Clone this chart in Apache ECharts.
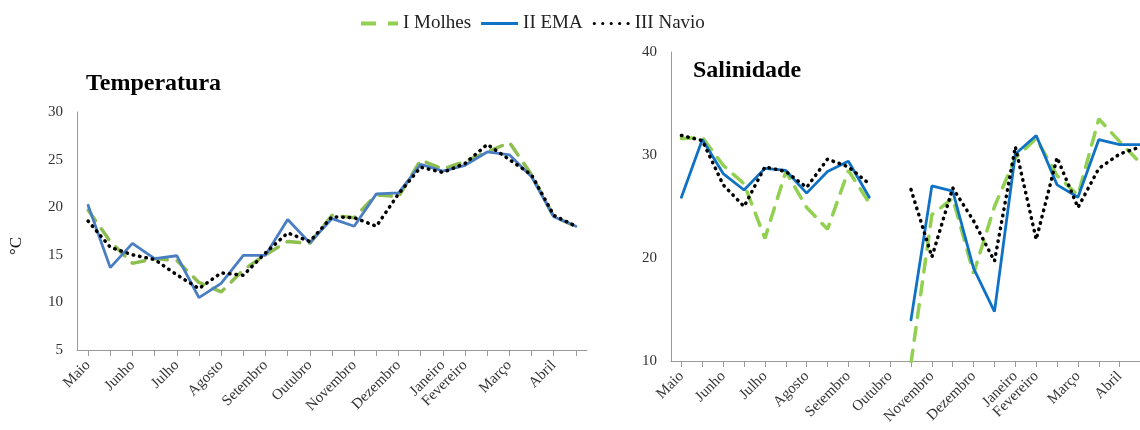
<!DOCTYPE html>
<html>
<head>
<meta charset="utf-8">
<script src="https://cdn.jsdelivr.net/npm/echarts@6/dist/echarts.min.js"></script>
<style>html,body{margin:0;padding:0;background:#fff}#c{width:1140px;height:430px}</style>
</head>
<body>
<div id="c"></div>
<script>
// categories (23 sampling points, labels only on some)
var categories = ['Maio','','Junho','','Julho','','Agosto','','Setembro','','Outubro','','Novembro','','Dezembro','','Janeiro','Fevereiro','','Março','','Abril',''];
var seriesNames = ['I Molhes','II EMA','III Navio'];
// Temperatura (°C)
var molhesT = [19.7, 16.4, 14.1, 14.6, 14.4, 12.1, 11.1, 13.4, 15.0, 16.4, 16.2, 19.15, 18.9, 21.3, 21.1, 24.95, 24.0, 24.8, 25.8, 26.8, 23.4, 19.0, 18.0];
var emaT    = [20.2, 13.65, 16.2, 14.6, 14.9, 10.5, 12.0, 14.95, 14.95, 18.7, 16.25, 18.8, 18.0, 21.4, 21.5, 24.5, 23.8, 24.4, 25.8, 25.5, 23.2, 19.0, 18.0];
var navioT  = [18.55, 15.8, 15.0, 14.5, 12.9, 11.45, 13.1, 12.85, 15.2, 17.3, 16.4, 19.0, 18.9, 18.0, 21.4, 24.2, 23.65, 24.6, 26.6, 25.0, 23.4, 19.15, 18.0];
// Salinidade
var molhesS = [31.6, 31.7, 29.0, 27.2, 21.9, 28.4, 24.9, 22.8, 28.5, 25.35, null, 9.8, 24.2, 25.8, 18.5, 25.0, 29.7, 31.6, 28.0, 26.1, 33.5, 31.3, 29.2];
var emaS    = [25.9, 31.5, 28.2, 26.6, 28.7, 28.5, 26.3, 28.4, 29.4, 25.9, null, 14.0, 27.0, 26.5, 19.0, 14.8, 30.1, 31.9, 27.1, 25.9, 31.5, 31.0, 31.0];
var navioS  = [31.9, 31.4, 27.1, 25.0, 28.85, 28.4, 26.85, 29.6, 28.85, 27.2, null, 26.65, 20.1, 26.8, 23.6, 19.7, 30.8, 21.8, 29.75, 24.9, 28.7, 30.1, 30.8];
// axis ticks
var tempTicks = {min: 5, max: 30, interval: 5};
var salTicks = {min: 10, max: 40, interval: 10};

var FONT = 'Liberation Serif';
var greenL = '#8EBE4F', blueL = '#4A7EC2', greenR = '#92D050', blueR = '#0F72C4', black = '#000';
var dashG = [13, 10], dotB = [0.5, 6];

// legend glyphs (filled shapes imitating dash / solid / dotted strokes)
var iconDash = 'path://M0,0h15v4h-15z M27,0h10v4h-10z';
var iconSolid = 'path://M0,0h37v3h-37z';
var iconDots = (function(){ var p = 'path://'; for (var i = 0; i < 5; i++) { var cx = 1.6 + i * 8.4; p += 'M' + (cx - 1.6) + ',1.6a1.6,1.6 0 1,0 3.2,0a1.6,1.6 0 1,0 -3.2,0z'; } return p; })();

function xAxis(gi) {
  return {
    type: 'category', gridIndex: gi, data: categories, boundaryGap: true,
    axisLine: {lineStyle: {color: '#9a9a9a', width: 1}},
    axisTick: {show: true, alignWithLabel: true, interval: 0, length: 6, lineStyle: {color: '#9a9a9a'}},
    axisLabel: {interval: 0, rotate: 45, margin: 13, fontFamily: FONT, fontSize: 15, color: '#333'},
    splitLine: {show: false}
  };
}
function yAxis(gi, t) {
  return {
    type: 'value', gridIndex: gi, min: t.min, max: t.max, interval: t.interval,
    axisLine: {show: true, lineStyle: {color: '#9a9a9a', width: 1}},
    axisTick: {show: false},
    axisLabel: {fontFamily: FONT, fontSize: 15, color: '#333', margin: 14},
    splitLine: {show: false}
  };
}
function line(name, data, gi, color, type, width) {
  return {
    name: name, type: 'line', xAxisIndex: gi, yAxisIndex: gi, data: data,
    symbol: 'none', connectNulls: false, clip: true, animation: false,
    lineStyle: {color: color, type: type, width: width, cap: 'round'},
    itemStyle: {color: color}
  };
}

var option = {
  animation: false,
  backgroundColor: '#fff',
  title: [
    {text: 'Temperatura', left: 86, top: 72, padding: 0, textStyle: {fontFamily: FONT, fontSize: 24, fontWeight: 'bold', color: '#000'}},
    {text: 'Salinidade', left: 693, top: 59, padding: 0, textStyle: {fontFamily: FONT, fontSize: 24, fontWeight: 'bold', color: '#000'}}
  ],
  legend: {
    left: 361, top: 14, itemWidth: 37, itemHeight: 14, itemGap: 10, padding: 0,
    textStyle: {fontFamily: FONT, fontSize: 19, color: '#222'},
    data: [
      {name: seriesNames[0], icon: iconDash, itemStyle: {color: greenR, borderWidth: 0}},
      {name: seriesNames[1], icon: iconSolid, itemStyle: {color: blueR, borderWidth: 0}},
      {name: seriesNames[2], icon: iconDots, itemStyle: {color: black, borderWidth: 0}}
    ]
  },
  graphic: [
    {type: 'text', x: 17, y: 246, rotation: Math.PI / 2, style: {text: '°C', font: '17px "Liberation Serif"', fill: '#111', align: 'center', verticalAlign: 'middle'}}
  ],
  grid: [
    {left: 77, top: 112, width: 510, bottom: 80, outerBoundsMode: 'none', containLabel: false},
    {left: 671, top: 52, width: 480, bottom: 69, outerBoundsMode: 'none', containLabel: false}
  ],
  xAxis: [xAxis(0), xAxis(1)],
  yAxis: [yAxis(0, tempTicks), yAxis(1, salTicks)],
  series: [
    line(seriesNames[0], molhesT, 0, greenL, dashG, 3.5),
    line(seriesNames[1], emaT, 0, blueL, 'solid', 2.8),
    line(seriesNames[2], navioT, 0, black, dotB, 3.5),
    line(seriesNames[0], molhesS, 1, greenR, dashG, 3.5),
    line(seriesNames[1], emaS, 1, blueR, 'solid', 2.8),
    line(seriesNames[2], navioS, 1, black, dotB, 3.5)
  ]
};
var chart = echarts.init(document.getElementById('c'), null, {renderer: 'canvas'});
chart.setOption(option);
</script>
</body>
</html>
